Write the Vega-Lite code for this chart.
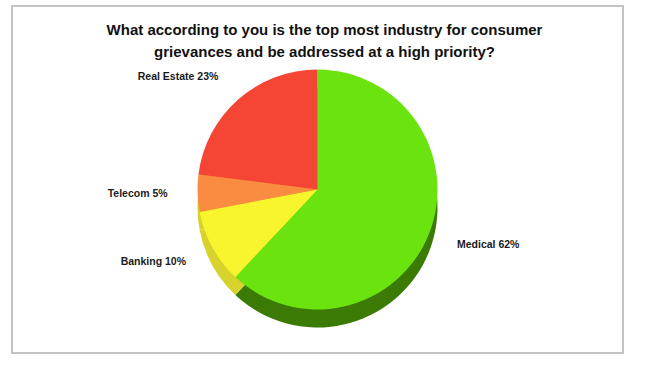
{
  "$schema": "https://vega.github.io/schema/vega-lite/v6.json",
  "autosize": {"type": "none"},
  "padding": {"left": 12, "top": 6, "right": 26, "bottom": 12},
  "width": 611,
  "height": 347,
  "background": "white",
  "view": {"stroke": "#c4c4c4", "strokeWidth": 2, "fill": "white"},
  "title": {
    "text": ["What according to you is the top most industry for consumer", "grievances and be addressed at a high priority?"],
    "font": "Liberation Sans",
    "fontSize": 15,
    "fontWeight": "bold",
    "color": "#111111",
    "anchor": "middle",
    "offset": -54,
    "lineHeight": 22,
    "dx": 7
  },
  "config": {"view": {"stroke": "#c4c4c4", "strokeWidth": 2}},
  "data": {
    "values": [
      {"industry": "Medical", "share": 62, "label": "Medical 62%"},
      {"industry": "Banking", "share": 10, "label": "Banking 10%"},
      {"industry": "Telecom", "share": 5, "label": "Telecom 5%"},
      {"industry": "Real Estate", "share": 23, "label": "Real Estate 23%"}
    ]
  },
  "transform": [{"window": [{"op": "row_number", "as": "idx"}]}],
  "encoding": {
    "theta": {"field": "share", "type": "quantitative", "stack": true},
    "order": {"field": "idx", "type": "quantitative"}
  },
  "layer": [
    {
      "mark": {"type": "arc", "outerRadius": 120, "yOffset": 28},
      "encoding": {
        "color": {
          "field": "industry", "type": "nominal",
          "scale": {"domain": ["Medical", "Banking", "Telecom", "Real Estate"], "range": ["#3a7a05", "#d8d22c", "#d8d22c", "#d8d22c"]},
          "legend": null
        }
      }
    },
    {
      "mark": {"type": "arc", "outerRadius": 120, "yOffset": 10},
      "encoding": {
        "color": {
          "field": "industry", "type": "nominal",
          "scale": {"domain": ["Medical", "Banking", "Telecom", "Real Estate"], "range": ["#6be30f", "#f8f52f", "#f98c40", "#f54535"]},
          "legend": null
        }
      }
    },
    {
      "mark": {
        "type": "text", "radius": 150, "baseline": "middle", "yOffset": 10,
        "font": "Liberation Sans", "fontSize": 10.5, "fontWeight": "bold", "color": "#1a1a1a",
        "align": {"expr": "datum.industry === 'Medical' ? 'left' : 'right'"}
      },
      "encoding": {
        "text": {"field": "label"},
        "detail": {"field": "industry"}
      }
    }
  ],
  "resolve": {"scale": {"color": "independent"}}
}
